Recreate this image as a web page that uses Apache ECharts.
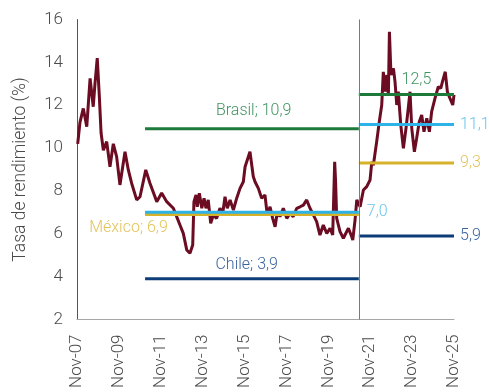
<!DOCTYPE html>
<html>
<head>
<meta charset="utf-8">
<script src="https://cdn.jsdelivr.net/npm/echarts@6/dist/echarts.min.js"></script>
<style>
  html, body { margin: 0; padding: 0; background: #fff; }
  #chart { width: 489px; height: 392px; }
</style>
</head>
<body>
<div id="chart"></div>
<script>
// Rendimiento del bono a 10 años (Colombia), %
const fechas = [
  "2007-11-13","2007-12-22","2008-02-19","2008-04-19","2008-06-16","2008-08-10","2008-09-10","2008-10-19",
  "2008-11-25","2008-12-25","2009-02-04","2009-04-01","2009-05-28","2009-07-25","2009-09-22","2009-11-19",
  "2010-02-16","2010-04-13","2010-06-10","2010-09-07","2010-11-04","2011-02-13","2011-04-25","2011-08-22",
  "2011-11-16","2012-02-13","2012-06-07","2012-08-04","2012-10-01","2012-11-28","2013-01-28","2013-03-22",
  "2013-05-10","2013-06-01","2013-07-07","2013-07-28","2013-09-04","2013-10-16","2013-11-25","2013-12-28",
  "2014-02-07","2014-03-19","2014-05-04","2014-07-01","2014-08-28","2014-10-16","2014-11-25","2015-01-04",
  "2015-02-22","2015-04-19","2015-06-16","2015-08-13","2015-10-10","2015-11-10","2016-02-04","2016-04-01",
  "2016-05-01","2016-06-28","2016-08-25","2016-10-22","2016-12-01","2017-01-19","2017-03-04","2017-04-16",
  "2017-05-25","2017-07-10","2017-09-07","2017-11-07","2018-01-01","2018-02-27","2018-04-28","2018-06-25",
  "2018-08-22","2018-10-19","2018-12-16","2019-02-13","2019-04-10","2019-06-07","2019-08-04","2019-10-04",
  "2019-12-01","2020-01-16","2020-02-20","2020-03-05","2020-03-25","2020-05-22","2020-07-19","2020-08-19",
  "2020-10-16","2020-12-13","2021-01-01","2021-02-10","2021-03-10","2021-05-07","2021-07-04","2021-09-01",
  "2021-10-28","2021-11-28","2021-12-25","2022-02-22","2022-04-07","2022-05-19","2022-06-16","2022-07-16",
  "2022-08-16","2022-09-13","2022-10-01","2022-10-28","2022-12-10","2023-01-07","2023-02-07","2023-03-04",
  "2023-04-16","2023-06-01","2023-07-16","2023-08-25","2023-09-25","2023-10-25","2023-12-10","2024-01-19",
  "2024-03-04","2024-04-16","2024-05-25","2024-07-13","2024-08-28","2024-10-07","2024-12-04","2025-02-01",
  "2025-03-13","2025-04-28","2025-06-01","2025-07-07","2025-08-22","2025-10-10","2025-11-01"
];
const rendimiento = [
  10.2, 11.2, 11.85, 11.0, 13.25, 11.93, 13.0, 14.2,
  12.4, 10.7, 9.9, 10.3, 9.13, 10.2, 9.6, 8.28,
  9.83, 8.98, 8.36, 7.58, 7.73, 8.98, 8.36, 7.5,
  7.9, 7.5, 7.19, 6.8, 6.41, 6.02, 5.24, 5.09,
  5.48, 7.5, 7.81, 7.26, 7.89, 7.19, 7.66, 7.19,
  7.58, 6.49, 6.88, 6.72, 7.19, 6.96, 7.73, 7.19,
  7.58, 7.11, 7.66, 8.12, 8.43, 9.13, 9.83, 8.67,
  8.43, 8.12, 7.66, 7.81, 6.88, 7.26, 6.72, 6.33,
  7.03, 6.8, 7.19, 6.72, 6.96, 6.8, 7.19, 7.26,
  7.34, 7.58, 7.19, 6.88, 6.57, 5.94, 6.41, 6.02,
  6.26, 5.94, 9.36, 8.5, 6.72, 6.1, 5.79, 5.71,
  6.26, 5.86, 5.71, 6.64, 7.58, 7.26, 8.04, 8.2,
  8.51, 9.36, 9.2, 10.3, 11.23, 12.01, 13.56, 12.63,
  13.41, 12.48, 15.43, 13.41, 13.72, 13.1, 12.01, 12.63,
  11.08, 9.99, 10.92, 11.86, 12.63, 10.92, 9.83, 10.46,
  11.23, 11.54, 10.76, 11.39, 10.76, 11.7, 12.32, 12.86,
  12.79, 13.25, 13.56, 12.63, 12.32, 12.01, 12.48
];

// Promedios por país en cada periodo
const paises = ["Brasil", "México", "Chile", "Colombia"];
const promedioAntes = [10.9, 6.9, 3.9, 7.0];
const promedioDespues = [12.5, 9.3, 5.9, 11.1];
const periodoAntes = ["2011-02-01", "2021-04-15"];
const periodoDespues = ["2021-04-15", "2025-11-01"];

const etiquetasX = ["Nov-07","Nov-09","Nov-11","Nov-13","Nov-15","Nov-17","Nov-19","Nov-21","Nov-23","Nov-25"];

// Meses transcurridos desde noviembre de 2007
function meses(fecha) {
  const [a, m, d] = fecha.split("-").map(Number);
  return (a - 2007) * 12 + (m - 11) + (d - 1) / 30;
}
const coma = v => v.toFixed(1).replace(".", ",");

const colores = {
  "Brasil":   { linea: "#1d7a3b", texto: "#3f9460" },
  "México":   { linea: "#d6b12a", texto: "#e2c35a" },
  "Chile":    { linea: "#0c3d78", texto: "#3a64a0" },
  "Colombia": { linea: "#2db3e8", texto: "#6cc4ee" }
};

const fuente = "Roboto";
const serieBono = {
  name: "Colombia 10 años",
  type: "line",
  data: fechas.map((f, i) => [meses(f), rendimiento[i]]),
  symbol: "none",
  lineStyle: { color: "#6b0c22", width: 3 },
  z: 2,
  markLine: {
    silent: true,
    symbol: "none",
    label: { show: false },
    lineStyle: { color: "#7a7a7a", width: 1, type: "solid" },
    data: [{ xAxis: meses(periodoAntes[1]) }]
  }
};

// Texto y anclaje de cada promedio
function etiqueta(pais, valor, tramo) {
  const x0 = meses(tramo[0]), x1 = meses(tramo[1]);
  const base = { fontFamily: fuente, fontWeight: 300, fontSize: 16, color: colores[pais].texto };
  if (tramo === periodoAntes) {
    if (pais === "Brasil") return { coord: [(x0 + x1) / 2 + 1, valor], label: { ...base, position: "top", distance: 10, formatter: pais + "; " + coma(valor) } };
    if (pais === "Chile") return { coord: [(x0 + x1) / 2 - 3, valor], label: { ...base, position: "top", distance: 6, formatter: pais + "; " + coma(valor) } };
    if (pais === "México") return { coord: [x0 - 9.5, valor], label: { ...base, position: "bottom", distance: 5, formatter: pais + "; " + coma(valor) } };
    return { coord: [x1, valor], label: { ...base, position: "right", distance: 8, formatter: coma(valor) } };
  }
  if (pais === "Brasil") return { coord: [x0 + 33, valor], label: { ...base, position: "top", distance: 7, formatter: coma(valor) } };
  return { coord: [x1, valor], label: { ...base, position: "right", distance: 6, formatter: coma(valor) } };
}

const seriesPromedio = [];
[[periodoAntes, promedioAntes], [periodoDespues, promedioDespues]].forEach(([tramo, valores]) => {
  paises.forEach((pais, i) => {
    seriesPromedio.push({
      name: pais,
      type: "line",
      data: [[meses(tramo[0]), valores[i]], [meses(tramo[1]), valores[i]]],
      symbol: "none",
      silent: true,
      lineStyle: { color: colores[pais].linea, width: 3 },
      z: 3,
      markPoint: {
        symbol: "circle",
        symbolSize: 0,
        silent: true,
        data: [etiqueta(pais, valores[i], tramo)]
      }
    });
  });
});

const chart = echarts.init(document.getElementById("chart"), null, { renderer: "canvas" });
chart.setOption({
  animation: false,
  backgroundColor: "#ffffff",
  grid: { left: 77, right: 35, top: 19.5, bottom: 72.5 },
  xAxis: {
    type: "value",
    min: 0,
    max: 216,
    interval: 24,
    splitLine: { show: false },
    axisTick: { show: false },
    axisLine: { show: true, lineStyle: { color: "#a6a6a6", width: 1 } },
    axisLabel: {
      rotate: 90,
      margin: 15,
      fontFamily: fuente,
      fontWeight: 300,
      fontSize: 17,
      color: "#4a4a4a",
      formatter: v => etiquetasX[Math.round(v / 24)]
    }
  },
  yAxis: {
    type: "value",
    min: 2,
    max: 16,
    interval: 2,
    name: "Tasa de rendimiento (%)",
    nameLocation: "middle",
    nameGap: 47,
    nameTextStyle: { fontFamily: fuente, fontWeight: 300, fontSize: 17.5, color: "#4a4a4a" },
    splitLine: { show: false },
    axisTick: { show: false },
    axisLine: { show: true, lineStyle: { color: "#555555", width: 1 } },
    axisLabel: { margin: 14, fontFamily: fuente, fontWeight: 300, fontSize: 17, color: "#4a4a4a" }
  },
  series: [serieBono, ...seriesPromedio]
});
</script>
</body>
</html>
